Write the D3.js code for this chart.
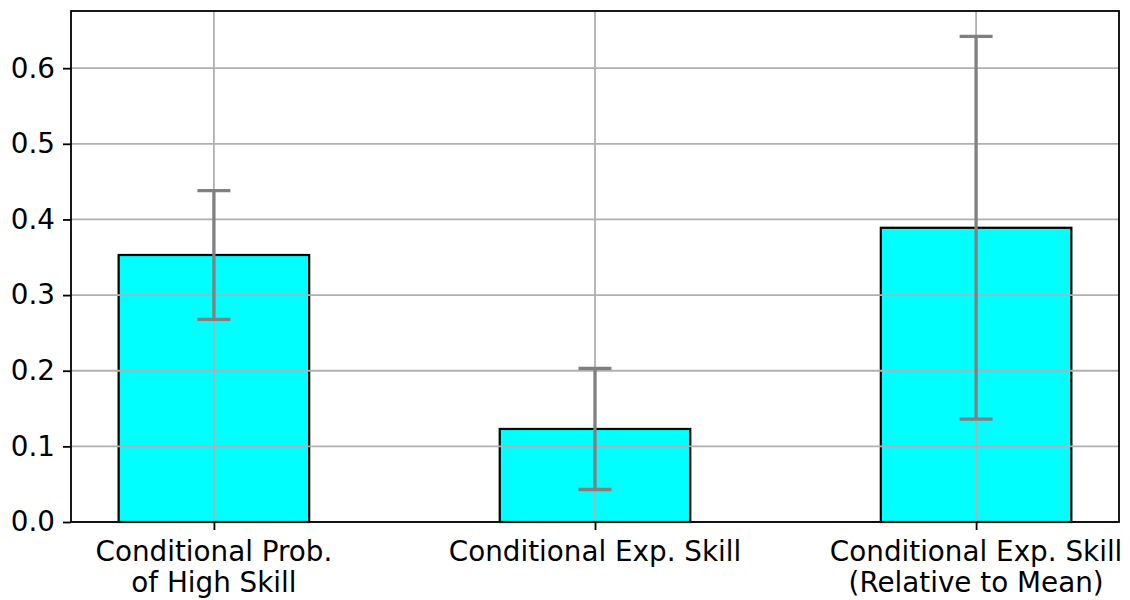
<!DOCTYPE html>
<html>
<head>
<meta charset="utf-8">
<script src="https://cdn.jsdelivr.net/npm/d3@7"></script>
<style>
  html, body { margin: 0; padding: 0; background: #fff; }
  svg { display: block; font-family: "DejaVu Sans", sans-serif; }
</style>
</head>
<body>
<svg id="chart" width="1130" height="600"></svg>
<script>
// Bar categories (each label split into lines)
const categories = [
  ["Conditional Prob.", "of High Skill"],
  ["Conditional Exp. Skill"],
  ["Conditional Exp. Skill", "(Relative to Mean)"]
];
// Bar heights and symmetric error half-widths
const values = [0.353, 0.123, 0.389];
const errors = [0.085, 0.080, 0.253];
const yTicks = [0.0, 0.1, 0.2, 0.3, 0.4, 0.5, 0.6];

const svg = d3.select("#chart");
const margin = { left: 71, right: 11, top: 11, bottom: 78 };
const W = 1130, H = 600;
const plotW = W - margin.left - margin.right;
const plotH = H - margin.top - margin.bottom;
const fontSize = "27.8px";

const x = d3.scaleLinear().domain([-0.375, 2.375]).range([margin.left, margin.left + plotW]);
const y = d3.scaleLinear().domain([0, 0.6756]).range([margin.top + plotH, margin.top]);
const barW = 0.5;

const g = svg.append("g");

// Bars
g.selectAll("rect.bar").data(values).join("rect")
  .attr("class", "bar")
  .attr("x", (d, i) => x(i - barW / 2))
  .attr("width", (d, i) => x(i + barW / 2) - x(i - barW / 2))
  .attr("y", d => y(d))
  .attr("height", d => y(0) - y(d))
  .attr("fill", "#00ffff")
  .attr("stroke", "#000")
  .attr("stroke-width", 2.2);

// Grid lines (drawn over the bars)
const grid = g.append("g").attr("stroke", "#b0b0b0").attr("stroke-width", 1.8);
grid.selectAll("line.h").data(yTicks).join("line")
  .attr("x1", margin.left).attr("x2", margin.left + plotW)
  .attr("y1", d => y(d)).attr("y2", d => y(d));
grid.selectAll("line.v").data(categories.map((c, i) => i)).join("line")
  .attr("y1", margin.top).attr("y2", margin.top + plotH)
  .attr("x1", d => x(d)).attr("x2", d => x(d));

// Error bars
const eb = g.append("g").attr("stroke", "#808080").attr("stroke-width", 3.3);
values.forEach((v, i) => {
  const cx = x(i);
  eb.append("line").attr("x1", cx).attr("x2", cx)
    .attr("y1", y(v - errors[i])).attr("y2", y(v + errors[i]));
  [v - errors[i], v + errors[i]].forEach(e => {
    eb.append("line").attr("x1", cx - 16.5).attr("x2", cx + 16.5)
      .attr("y1", y(e)).attr("y2", y(e));
  });
});

// Frame
g.append("rect")
  .attr("x", margin.left).attr("y", margin.top)
  .attr("width", plotW).attr("height", plotH)
  .attr("fill", "none").attr("stroke", "#000").attr("stroke-width", 1.8);

// Y axis
const yAxis = d3.axisLeft(y).tickValues(yTicks).tickFormat(d3.format(".1f")).tickSize(8).tickPadding(8);
const ya = svg.append("g").attr("transform", `translate(${margin.left},0)`).call(yAxis);
ya.select(".domain").remove();
ya.selectAll(".tick line").attr("stroke", "#000").attr("stroke-width", 1.8);
ya.selectAll(".tick text").attr("font-size", fontSize).attr("fill", "#000")
  .attr("font-family", "DejaVu Sans");

// X axis
const xAxis = d3.axisBottom(x).tickValues([0, 1, 2]).tickFormat("").tickSize(8);
const xa = svg.append("g").attr("transform", `translate(0,${margin.top + plotH})`).call(xAxis);
xa.select(".domain").remove();
xa.selectAll(".tick line").attr("stroke", "#000").attr("stroke-width", 1.8);

// Multi-line category labels
const labels = svg.append("g").attr("font-size", fontSize).attr("fill", "#000").attr("text-anchor", "middle");
categories.forEach((lines, i) => {
  const t = labels.append("text").attr("x", x(i)).attr("y", 561);
  lines.forEach((ln, k) => {
    t.append("tspan").attr("x", x(i)).attr("dy", k === 0 ? 0 : 31).text(ln);
  });
});
</script>
</body>
</html>
